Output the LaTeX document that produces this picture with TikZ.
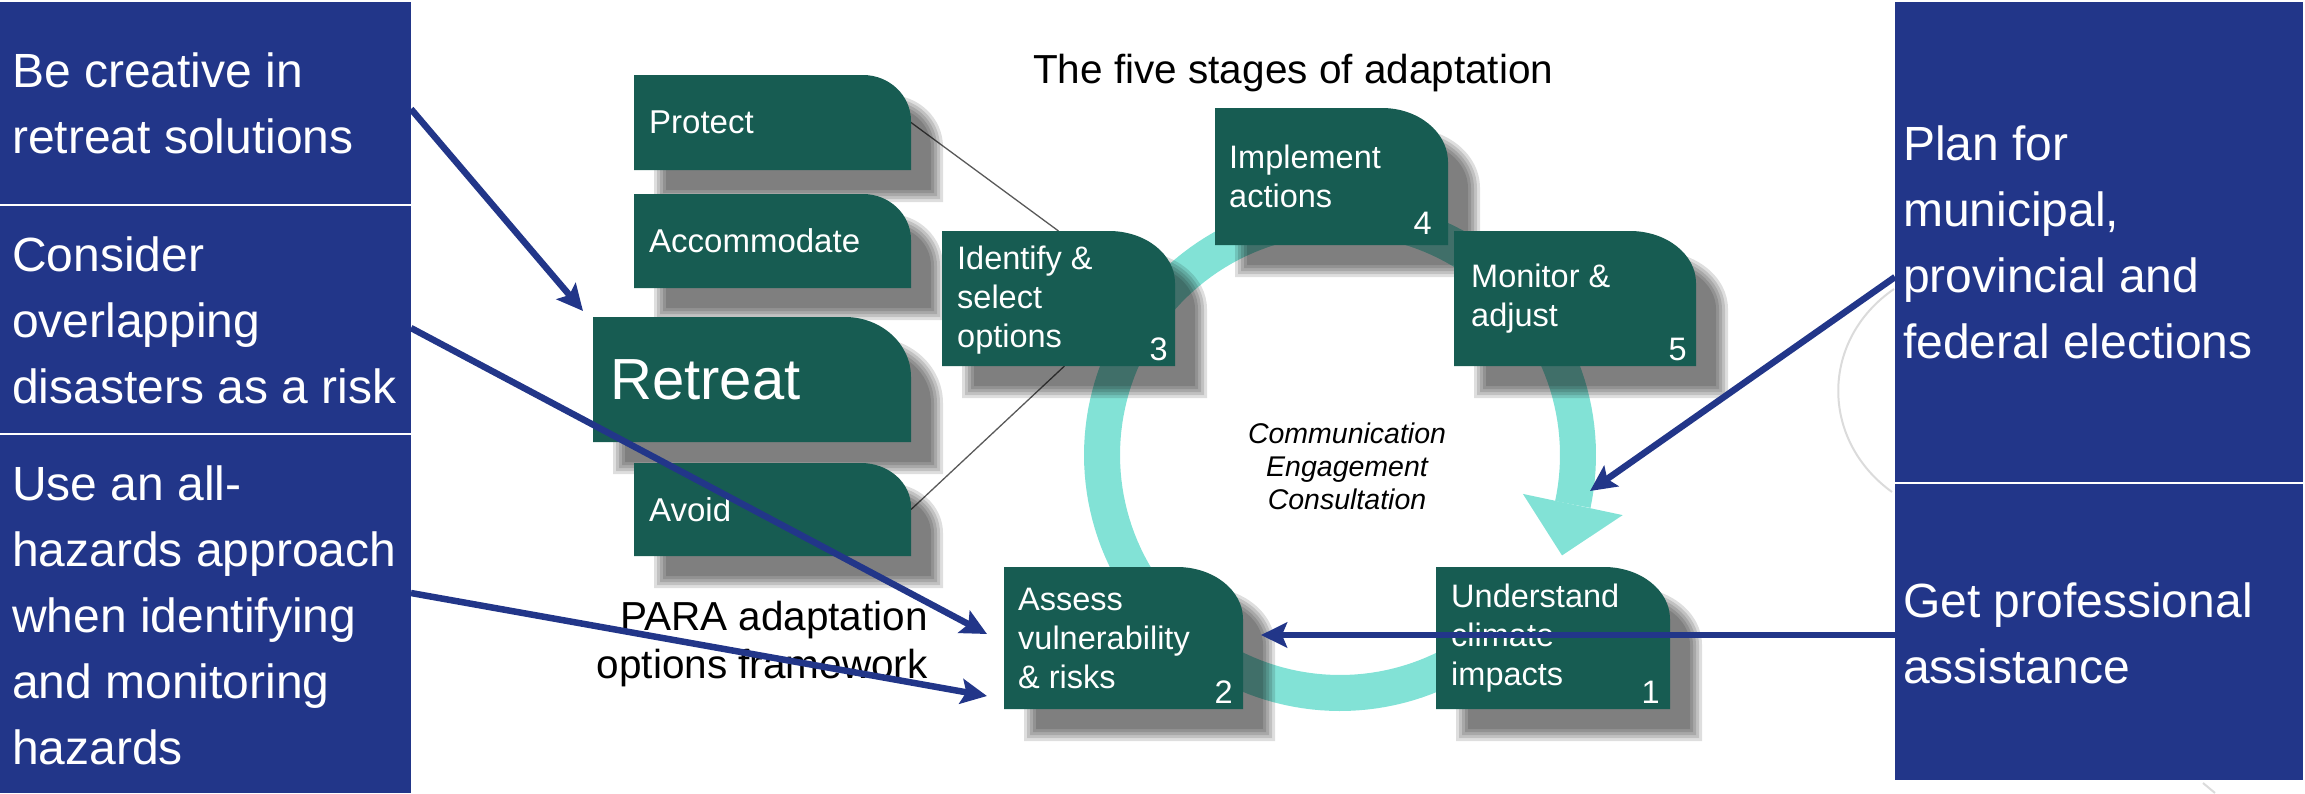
\documentclass[tikz,border=0pt]{standalone}
\usepackage{fontspec}
\setmainfont{Liberation Sans}
\usetikzlibrary{arrows.meta,calc}
\pgfdeclarelayer{ringl}
\pgfdeclarelayer{shad}
\pgfdeclarelayer{boxl}
\pgfsetlayers{ringl,shad,boxl,main}
\definecolor{gboxc}{RGB}{23,92,82}
\definecolor{ringc}{RGB}{130,226,214}
\definecolor{bboxc}{RGB}{34,54,137}
\newcommand\gpath[6]{({#1},{#2}) -- ({#3-(#5)},{#2}) .. controls ({#3-0.4477*(#5)},{#2}) and ({#3},{#2+0.4477*(#6)}) .. ({#3},{#2+#6}) -- ({#3},{#4}) -- ({#1},{#4}) -- cycle}
\newcommand\gshape[6]{%
 \begin{pgfonlayer}{shad}
 \foreach \k in {-6,-3,0,3,6}{\fill[black,opacity=0.13] \gpath{#1+26+(\k)}{#2+26+(\k)}{#3+26-(\k)}{#4+26-(\k)}{#5-(\k)}{#6-(\k)};}
 \end{pgfonlayer}
 \begin{pgfonlayer}{boxl}\fill[gboxc] \gpath{#1}{#2}{#3}{#4}{#5}{#6};\end{pgfonlayer}}
\tikzset{
 boxarea/.style={inner sep=0pt, outer sep=0pt},
 stxt/.style={text=white, align=left, inner sep=0pt, anchor=west, font=\fontsize{32.5}{39}\selectfont},
 ptxt/.style={text=white, align=left, inner sep=0pt, anchor=west, font=\fontsize{33}{40}\selectfont},
 numtxt/.style={text=white, inner sep=0pt, anchor=base east, font=\fontsize{32.5}{39}\selectfont},
 bluebox/.style={fill=bboxc, inner sep=0pt, outer sep=0pt, minimum width=411pt},
 rbluebox/.style={bluebox, minimum width=408pt},
 btxt/.style={text=white, align=left, inner sep=0pt, anchor=west, font=\fontsize{48}{66}\selectfont},
 barrow/.style={draw=bboxc, line width=6.5pt, -{Stealth[length=26pt,width=25pt,inset=5pt]}},
 thinline/.style={draw=black!65, line width=1.3pt},
}
\begin{document}
\begin{tikzpicture}[x=1pt,y=-1pt]
\useasboundingbox (0,0) rectangle (2305,793);
% ring
\begin{pgfonlayer}{ringl}
\draw[ringc, line width=36pt] plot[domain=40:372, samples=160] ({1340+238*cos(\x)},{455+238*sin(\x)});
\fill[ringc] (1522.9,493.9) -- (1622.7,515.1) -- (1562,555.4) -- cycle;
\draw[black!14, line width=2pt] (1894,289) .. controls (1820,340) and (1820,440) .. (1892,492);
\draw[black!14, line width=2pt] (2203,783) -- (2215,793);
\end{pgfonlayer}
% green shapes
\gshape{634}{75}{911}{170}{48}{46}
\gshape{634}{194}{911}{288}{48}{46}
\gshape{593}{317}{911}{442}{66}{60}
\gshape{634}{463}{911}{556}{50}{44}
\gshape{942}{231}{1175}{366}{66}{52}
\gshape{1215}{108}{1448}{245}{66}{54}
\gshape{1454}{231}{1696}{366}{66}{52}
\gshape{1004}{567}{1243}{709}{66}{52}
\gshape{1436}{567}{1670}{709}{66}{52}
% box nodes
\node[boxarea, minimum width=277pt, minimum height=95pt] (pr) at (772.5,122.5) {};
\node[boxarea, minimum width=277pt, minimum height=94pt] (ac) at (772.5,241) {};
\node[boxarea, minimum width=318pt, minimum height=125pt] (re) at (752,379.5) {};
\node[boxarea, minimum width=277pt, minimum height=93pt] (av) at (772.5,509.5) {};
\node[boxarea, minimum width=233pt, minimum height=135pt] (s3) at (1058.5,298.5) {};
\node[boxarea, minimum width=233pt, minimum height=137pt] (s4) at (1331.5,176.5) {};
\node[boxarea, minimum width=242pt, minimum height=135pt] (s5) at (1575,298.5) {};
\node[boxarea, minimum width=239pt, minimum height=142pt] (s2) at (1123.5,638) {};
\node[boxarea, minimum width=234pt, minimum height=142pt] (s1) at (1553,638) {};
% texts in green boxes
\node[ptxt] (prt) at ([xshift=15pt]pr.west) {Protect};
\node[ptxt] (act) at ([xshift=15pt]ac.west) {Accommodate};
\node[ptxt, font=\fontsize{58}{64}\selectfont] (ret) at ([xshift=17pt]re.west) {Retreat};
\node[ptxt] (avt) at ([xshift=15pt]av.west) {Avoid};
\node[stxt] (s3t) at ([xshift=15pt,yshift=-2pt]s3.west) {Identify \&\\select\\options};
\node[stxt] (s4t) at ([xshift=14pt]s4.west) {Implement\\actions};
\node[stxt] (s5t) at ([xshift=17pt]s5.west) {Monitor \&\\adjust};
\node[stxt] (s2t) at ([xshift=14pt]s2.west) {Assess\\vulnerability\\\& risks};
\node[stxt] (s1t) at ([xshift=15pt]s1.west) {Understand\\climate\\impacts};
\node[numtxt] (s3n) at ([xshift=-7pt,yshift=6pt]s3.south east) {3};
\node[numtxt] (s4n) at ([xshift=-16pt,yshift=11pt]s4.south east) {4};
\node[numtxt] (s5n) at ([xshift=-9pt,yshift=6pt]s5.south east) {5};
\node[numtxt] (s2n) at ([xshift=-10pt,yshift=6pt]s2.south east) {2};
\node[numtxt] (s1n) at ([xshift=-10pt,yshift=6pt]s1.south east) {1};
% thin connectors
\begin{pgfonlayer}{ringl}
\draw[thinline] (pr.east) -- (s3.north);
\draw[thinline] (av.east) -- ([xshift=6pt]s3.south);
\end{pgfonlayer}
% labels
\node[anchor=base west, inner sep=0pt, font=\fontsize{40.5}{48}\selectfont] (title) at (1033,83) {The five stages of adaptation};
\node[align=right, anchor=north east, inner sep=0pt, font=\fontsize{40.5}{48}\selectfont] (para) at (928,601) {PARA adaptation\\options framework};
\node[align=center, anchor=north, inner sep=0pt, font=\fontsize{28.5}{33}\selectfont\itshape] (comm) at (1347,423) {Communication\\Engagement\\Consultation};
% blue boxes
\node[bluebox, minimum height=202pt] (lb1) at (205.5,103) {};
\node[bluebox, minimum height=227pt] (lb2) at (205.5,319.5) {};
\node[bluebox, minimum height=358pt] (lb3) at (205.5,614) {};
\node[rbluebox, minimum height=480pt] (rb1) at (2099,242) {};
\node[rbluebox, minimum height=296pt] (rb2) at (2099,632) {};
\node[btxt] (lb1t) at ([xshift=12pt,yshift=0pt]lb1.west) {Be creative in\\retreat solutions};
\node[btxt] (lb2t) at ([xshift=12pt,yshift=-1pt]lb2.west) {Consider\\overlapping\\disasters as a risk};
\node[btxt] (lb3t) at ([xshift=12pt,yshift=-1pt]lb3.west) {Use an all-\\hazards approach\\when identifying\\and monitoring\\hazards};
\node[btxt] (rb1t) at ([xshift=8pt,yshift=0pt]rb1.west) {Plan for\\municipal,\\provincial and\\federal elections};
\node[btxt] (rb2t) at ([xshift=8pt,yshift=-1pt]rb2.west) {Get professional\\assistance};
% blue arrows
\draw[barrow] ([yshift=-6pt]lb1.east) -- ([xshift=-10pt,yshift=6pt]re.north west);
\draw[barrow] ([yshift=-8.5pt]lb2.east) -- ([xshift=-17pt,yshift=4pt]s2.west);
\draw[barrow] ([yshift=21pt]lb3.east) -- ([xshift=-17pt,yshift=-58pt]s2.west);
\draw[barrow] ([yshift=-35pt]rb1.west) -- ([xshift=37pt,yshift=76pt]s1.north);
\draw[barrow] ([yshift=-3pt]rb2.west) -- ([xshift=18pt,yshift=3pt]s2.east);
\end{tikzpicture}
\end{document}
